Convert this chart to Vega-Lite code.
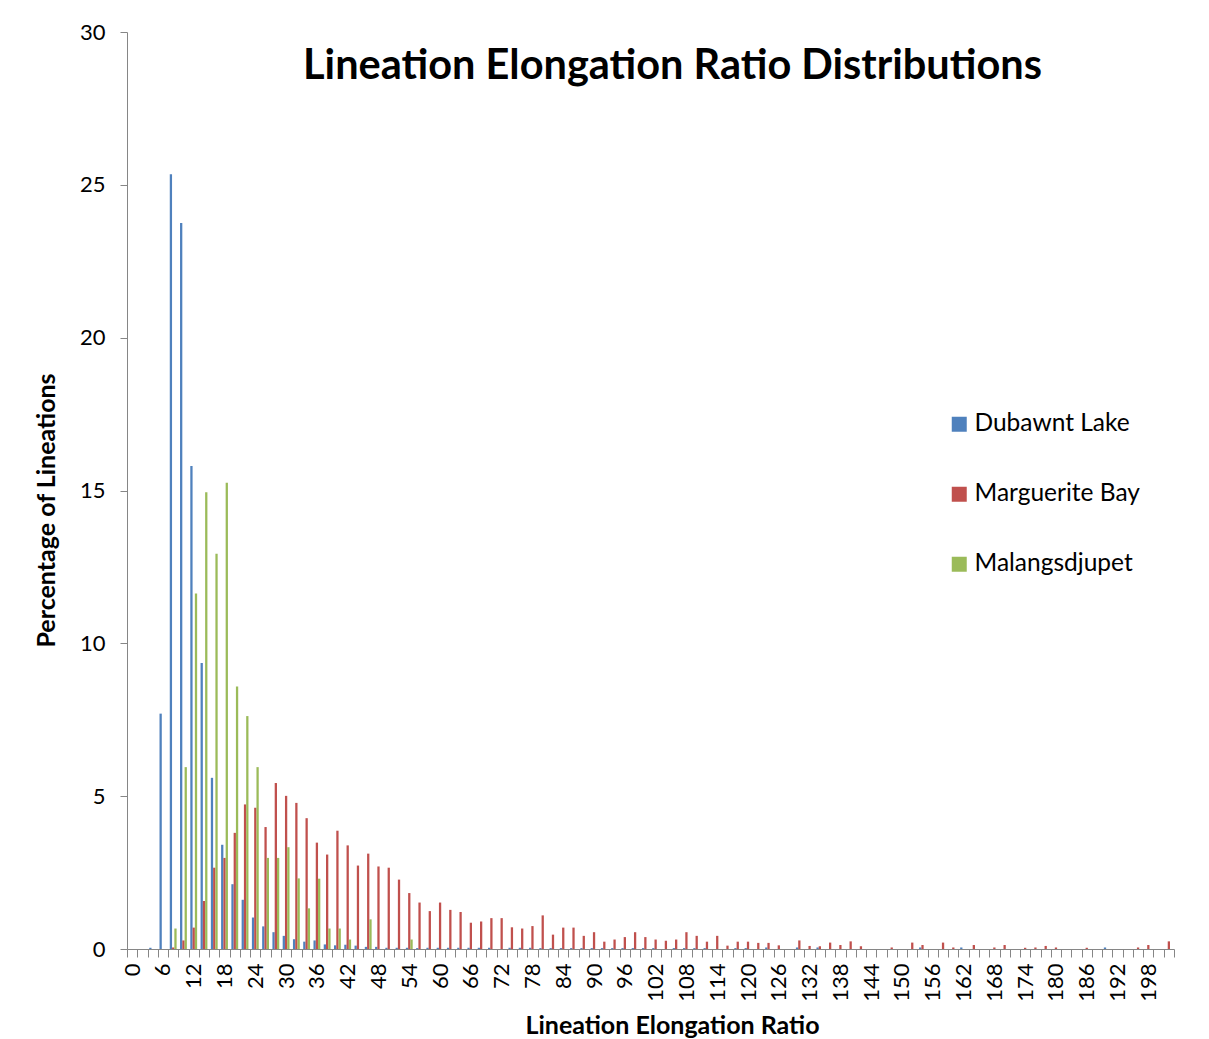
{
  "$schema": "https://vega.github.io/schema/vega-lite/v6.json",
  "width": 1047,
  "height": 917,
  "autosize": {"type": "none"},
  "padding": {"left": 127, "top": 32, "right": 35, "bottom": 90},
  "background": "white",
  "config": {"view": {"stroke": null}, "font": "Lato"},
  "data": {"values": [
    {"ratio": 4, "site": "Dubawnt Lake", "pct": 0.04},
    {"ratio": 6, "site": "Dubawnt Lake", "pct": 7.7},
    {"ratio": 8, "site": "Dubawnt Lake", "pct": 25.35},
    {"ratio": 10, "site": "Dubawnt Lake", "pct": 23.75},
    {"ratio": 12, "site": "Dubawnt Lake", "pct": 15.8},
    {"ratio": 14, "site": "Dubawnt Lake", "pct": 9.36},
    {"ratio": 16, "site": "Dubawnt Lake", "pct": 5.6},
    {"ratio": 18, "site": "Dubawnt Lake", "pct": 3.41},
    {"ratio": 20, "site": "Dubawnt Lake", "pct": 2.12},
    {"ratio": 22, "site": "Dubawnt Lake", "pct": 1.61},
    {"ratio": 24, "site": "Dubawnt Lake", "pct": 1.03},
    {"ratio": 26, "site": "Dubawnt Lake", "pct": 0.74},
    {"ratio": 28, "site": "Dubawnt Lake", "pct": 0.55},
    {"ratio": 30, "site": "Dubawnt Lake", "pct": 0.43},
    {"ratio": 32, "site": "Dubawnt Lake", "pct": 0.32},
    {"ratio": 34, "site": "Dubawnt Lake", "pct": 0.24},
    {"ratio": 36, "site": "Dubawnt Lake", "pct": 0.28},
    {"ratio": 38, "site": "Dubawnt Lake", "pct": 0.15},
    {"ratio": 40, "site": "Dubawnt Lake", "pct": 0.12},
    {"ratio": 42, "site": "Dubawnt Lake", "pct": 0.14},
    {"ratio": 44, "site": "Dubawnt Lake", "pct": 0.11},
    {"ratio": 46, "site": "Dubawnt Lake", "pct": 0.07},
    {"ratio": 48, "site": "Dubawnt Lake", "pct": 0.07},
    {"ratio": 50, "site": "Dubawnt Lake", "pct": 0.04},
    {"ratio": 52, "site": "Dubawnt Lake", "pct": 0.04},
    {"ratio": 54, "site": "Dubawnt Lake", "pct": 0.04},
    {"ratio": 56, "site": "Dubawnt Lake", "pct": 0.03},
    {"ratio": 58, "site": "Dubawnt Lake", "pct": 0.04},
    {"ratio": 60, "site": "Dubawnt Lake", "pct": 0.04},
    {"ratio": 62, "site": "Dubawnt Lake", "pct": 0.04},
    {"ratio": 64, "site": "Dubawnt Lake", "pct": 0.04},
    {"ratio": 66, "site": "Dubawnt Lake", "pct": 0.04},
    {"ratio": 68, "site": "Dubawnt Lake", "pct": 0.04},
    {"ratio": 70, "site": "Dubawnt Lake", "pct": 0.04},
    {"ratio": 74, "site": "Dubawnt Lake", "pct": 0.04},
    {"ratio": 76, "site": "Dubawnt Lake", "pct": 0.04},
    {"ratio": 78, "site": "Dubawnt Lake", "pct": 0.04},
    {"ratio": 80, "site": "Dubawnt Lake", "pct": 0.03},
    {"ratio": 82, "site": "Dubawnt Lake", "pct": 0.03},
    {"ratio": 84, "site": "Dubawnt Lake", "pct": 0.03},
    {"ratio": 86, "site": "Dubawnt Lake", "pct": 0.03},
    {"ratio": 88, "site": "Dubawnt Lake", "pct": 0.03},
    {"ratio": 90, "site": "Dubawnt Lake", "pct": 0.03},
    {"ratio": 92, "site": "Dubawnt Lake", "pct": 0.03},
    {"ratio": 94, "site": "Dubawnt Lake", "pct": 0.03},
    {"ratio": 96, "site": "Dubawnt Lake", "pct": 0.03},
    {"ratio": 98, "site": "Dubawnt Lake", "pct": 0.03},
    {"ratio": 100, "site": "Dubawnt Lake", "pct": 0.03},
    {"ratio": 102, "site": "Dubawnt Lake", "pct": 0.03},
    {"ratio": 106, "site": "Dubawnt Lake", "pct": 0.03},
    {"ratio": 108, "site": "Dubawnt Lake", "pct": 0.03},
    {"ratio": 110, "site": "Dubawnt Lake", "pct": 0.03},
    {"ratio": 112, "site": "Dubawnt Lake", "pct": 0.03},
    {"ratio": 118, "site": "Dubawnt Lake", "pct": 0.03},
    {"ratio": 120, "site": "Dubawnt Lake", "pct": 0.03},
    {"ratio": 124, "site": "Dubawnt Lake", "pct": 0.05},
    {"ratio": 130, "site": "Dubawnt Lake", "pct": 0.05},
    {"ratio": 134, "site": "Dubawnt Lake", "pct": 0.05},
    {"ratio": 154, "site": "Dubawnt Lake", "pct": 0.05},
    {"ratio": 162, "site": "Dubawnt Lake", "pct": 0.05},
    {"ratio": 190, "site": "Dubawnt Lake", "pct": 0.05},
    {"ratio": 8, "site": "Marguerite Bay", "pct": 0.05},
    {"ratio": 10, "site": "Marguerite Bay", "pct": 0.28},
    {"ratio": 12, "site": "Marguerite Bay", "pct": 0.7},
    {"ratio": 14, "site": "Marguerite Bay", "pct": 1.57},
    {"ratio": 16, "site": "Marguerite Bay", "pct": 2.66},
    {"ratio": 18, "site": "Marguerite Bay", "pct": 2.98},
    {"ratio": 20, "site": "Marguerite Bay", "pct": 3.8},
    {"ratio": 22, "site": "Marguerite Bay", "pct": 4.73},
    {"ratio": 24, "site": "Marguerite Bay", "pct": 4.62},
    {"ratio": 26, "site": "Marguerite Bay", "pct": 3.99},
    {"ratio": 28, "site": "Marguerite Bay", "pct": 5.43},
    {"ratio": 30, "site": "Marguerite Bay", "pct": 5.01},
    {"ratio": 32, "site": "Marguerite Bay", "pct": 4.78},
    {"ratio": 34, "site": "Marguerite Bay", "pct": 4.28},
    {"ratio": 36, "site": "Marguerite Bay", "pct": 3.48},
    {"ratio": 38, "site": "Marguerite Bay", "pct": 3.09},
    {"ratio": 40, "site": "Marguerite Bay", "pct": 3.87},
    {"ratio": 42, "site": "Marguerite Bay", "pct": 3.39},
    {"ratio": 44, "site": "Marguerite Bay", "pct": 2.73},
    {"ratio": 46, "site": "Marguerite Bay", "pct": 3.12},
    {"ratio": 48, "site": "Marguerite Bay", "pct": 2.7},
    {"ratio": 50, "site": "Marguerite Bay", "pct": 2.66},
    {"ratio": 52, "site": "Marguerite Bay", "pct": 2.27},
    {"ratio": 54, "site": "Marguerite Bay", "pct": 1.83},
    {"ratio": 56, "site": "Marguerite Bay", "pct": 1.52},
    {"ratio": 58, "site": "Marguerite Bay", "pct": 1.24},
    {"ratio": 60, "site": "Marguerite Bay", "pct": 1.52},
    {"ratio": 62, "site": "Marguerite Bay", "pct": 1.28},
    {"ratio": 64, "site": "Marguerite Bay", "pct": 1.21},
    {"ratio": 66, "site": "Marguerite Bay", "pct": 0.86},
    {"ratio": 68, "site": "Marguerite Bay", "pct": 0.9},
    {"ratio": 70, "site": "Marguerite Bay", "pct": 1.01},
    {"ratio": 72, "site": "Marguerite Bay", "pct": 1.01},
    {"ratio": 74, "site": "Marguerite Bay", "pct": 0.71},
    {"ratio": 76, "site": "Marguerite Bay", "pct": 0.67},
    {"ratio": 78, "site": "Marguerite Bay", "pct": 0.75},
    {"ratio": 80, "site": "Marguerite Bay", "pct": 1.1},
    {"ratio": 82, "site": "Marguerite Bay", "pct": 0.47},
    {"ratio": 84, "site": "Marguerite Bay", "pct": 0.7},
    {"ratio": 86, "site": "Marguerite Bay", "pct": 0.7},
    {"ratio": 88, "site": "Marguerite Bay", "pct": 0.43},
    {"ratio": 90, "site": "Marguerite Bay", "pct": 0.55},
    {"ratio": 92, "site": "Marguerite Bay", "pct": 0.24},
    {"ratio": 94, "site": "Marguerite Bay", "pct": 0.31},
    {"ratio": 96, "site": "Marguerite Bay", "pct": 0.39},
    {"ratio": 98, "site": "Marguerite Bay", "pct": 0.55},
    {"ratio": 100, "site": "Marguerite Bay", "pct": 0.39},
    {"ratio": 102, "site": "Marguerite Bay", "pct": 0.31},
    {"ratio": 104, "site": "Marguerite Bay", "pct": 0.27},
    {"ratio": 106, "site": "Marguerite Bay", "pct": 0.31},
    {"ratio": 108, "site": "Marguerite Bay", "pct": 0.55},
    {"ratio": 110, "site": "Marguerite Bay", "pct": 0.43},
    {"ratio": 112, "site": "Marguerite Bay", "pct": 0.24},
    {"ratio": 114, "site": "Marguerite Bay", "pct": 0.43},
    {"ratio": 116, "site": "Marguerite Bay", "pct": 0.11},
    {"ratio": 118, "site": "Marguerite Bay", "pct": 0.24},
    {"ratio": 120, "site": "Marguerite Bay", "pct": 0.24},
    {"ratio": 122, "site": "Marguerite Bay", "pct": 0.2},
    {"ratio": 124, "site": "Marguerite Bay", "pct": 0.2},
    {"ratio": 126, "site": "Marguerite Bay", "pct": 0.12},
    {"ratio": 130, "site": "Marguerite Bay", "pct": 0.28},
    {"ratio": 132, "site": "Marguerite Bay", "pct": 0.1},
    {"ratio": 134, "site": "Marguerite Bay", "pct": 0.09},
    {"ratio": 136, "site": "Marguerite Bay", "pct": 0.21},
    {"ratio": 138, "site": "Marguerite Bay", "pct": 0.13},
    {"ratio": 140, "site": "Marguerite Bay", "pct": 0.25},
    {"ratio": 142, "site": "Marguerite Bay", "pct": 0.09},
    {"ratio": 148, "site": "Marguerite Bay", "pct": 0.05},
    {"ratio": 152, "site": "Marguerite Bay", "pct": 0.21},
    {"ratio": 154, "site": "Marguerite Bay", "pct": 0.13},
    {"ratio": 158, "site": "Marguerite Bay", "pct": 0.21},
    {"ratio": 160, "site": "Marguerite Bay", "pct": 0.05},
    {"ratio": 164, "site": "Marguerite Bay", "pct": 0.13},
    {"ratio": 168, "site": "Marguerite Bay", "pct": 0.05},
    {"ratio": 170, "site": "Marguerite Bay", "pct": 0.13},
    {"ratio": 174, "site": "Marguerite Bay", "pct": 0.04},
    {"ratio": 176, "site": "Marguerite Bay", "pct": 0.05},
    {"ratio": 178, "site": "Marguerite Bay", "pct": 0.1},
    {"ratio": 180, "site": "Marguerite Bay", "pct": 0.05},
    {"ratio": 186, "site": "Marguerite Bay", "pct": 0.04},
    {"ratio": 196, "site": "Marguerite Bay", "pct": 0.05},
    {"ratio": 198, "site": "Marguerite Bay", "pct": 0.13},
    {"ratio": 202, "site": "Marguerite Bay", "pct": 0.25},
    {"ratio": 8, "site": "Malangsdjupet", "pct": 0.67},
    {"ratio": 10, "site": "Malangsdjupet", "pct": 5.95},
    {"ratio": 12, "site": "Malangsdjupet", "pct": 11.63},
    {"ratio": 14, "site": "Malangsdjupet", "pct": 14.94},
    {"ratio": 16, "site": "Malangsdjupet", "pct": 12.93},
    {"ratio": 18, "site": "Malangsdjupet", "pct": 15.25},
    {"ratio": 20, "site": "Malangsdjupet", "pct": 8.59},
    {"ratio": 22, "site": "Malangsdjupet", "pct": 7.62},
    {"ratio": 24, "site": "Malangsdjupet", "pct": 5.95},
    {"ratio": 26, "site": "Malangsdjupet", "pct": 2.98},
    {"ratio": 28, "site": "Malangsdjupet", "pct": 2.98},
    {"ratio": 30, "site": "Malangsdjupet", "pct": 3.33},
    {"ratio": 32, "site": "Malangsdjupet", "pct": 2.31},
    {"ratio": 34, "site": "Malangsdjupet", "pct": 1.33},
    {"ratio": 36, "site": "Malangsdjupet", "pct": 2.3},
    {"ratio": 38, "site": "Malangsdjupet", "pct": 0.67},
    {"ratio": 40, "site": "Malangsdjupet", "pct": 0.67},
    {"ratio": 42, "site": "Malangsdjupet", "pct": 0.31},
    {"ratio": 46, "site": "Malangsdjupet", "pct": 0.97},
    {"ratio": 54, "site": "Malangsdjupet", "pct": 0.31}
  ]},
  "layer": [
    {
      "mark": {"type": "bar"},
      "encoding": {
        "x": {
          "field": "ratio",
          "type": "ordinal",
          "scale": {
            "domain": [0,2,4,6,8,10,12,14,16,18,20,22,24,26,28,30,32,34,36,38,40,42,44,46,48,50,52,54,56,58,60,62,64,66,68,70,72,74,76,78,80,82,84,86,88,90,92,94,96,98,100,102,104,106,108,110,112,114,116,118,120,122,124,126,128,130,132,134,136,138,140,142,144,146,148,150,152,154,156,158,160,162,164,166,168,170,172,174,176,178,180,182,184,186,188,190,192,194,196,198,200,202],
            "paddingInner": 0,
            "paddingOuter": 0
          },
          "axis": {
            "orient": "bottom",
            "title": "Lineation Elongation Ratio",
            "titleFont": "Lato",
            "titleFontSize": 25,
            "titleFontWeight": "bold",
            "titleColor": "black",
            "titleX": 545,
            "titleY": 76,
            "titleAlign": "center",
            "titleBaseline": "middle",
            "labelAngle": -90,
            "labelFontSize": 22,
            "labelColor": "black",
            "labelPadding": 6,
            "labelOverlap": false,
            "labelExpr": "datum.value % 6 === 0 ? datum.label : ''",
            "tickBand": "extent",
            "tickSize": 8,
            "tickColor": "#868686",
            "domainColor": "#868686",
            "grid": false
          }
        },
        "xOffset": {
          "field": "site",
          "scale": {"domain": ["Dubawnt Lake", "Marguerite Bay", "Malangsdjupet"], "paddingInner": 0, "paddingOuter": 0.75}
        },
        "y": {
          "field": "pct",
          "type": "quantitative",
          "scale": {"domain": [0, 30], "nice": false},
          "axis": {
            "title": "Percentage of Lineations",
            "titleFont": "Lato",
            "titleFontSize": 25,
            "titleFontWeight": "bold",
            "titleColor": "black",
            "titleX": -81,
            "titleY": 478,
            "titleAlign": "center",
            "titleBaseline": "middle",
            "values": [0, 5, 10, 15, 20, 25, 30],
            "labelFontSize": 22,
            "labelColor": "black",
            "labelPadding": 15,
            "tickSize": 7,
            "tickColor": "#868686",
            "domainColor": "#868686",
            "grid": false
          }
        },
        "color": {
          "field": "site",
          "type": "nominal",
          "scale": {"domain": ["Dubawnt Lake", "Marguerite Bay", "Malangsdjupet"], "range": ["#4F81BD", "#C0504D", "#9BBB59"]},
          "legend": {
            "orient": "none",
            "legendX": 820,
            "legendY": 380,
            "title": null,
            "symbolType": "square",
            "symbolSize": 225,
            "symbolStrokeWidth": 0,
            "labelFontSize": 24.5,
            "labelLimit": 400,
            "labelColor": "black",
            "labelOffset": 3,
            "rowPadding": 45,
            "padding": 0
          }
        }
      }
    },
    {
      "data": {"values": []},
      "mark": {"type": "bar"},
      "encoding": {
        "x": {
          "field": "ratio",
          "type": "ordinal",
          "axis": {
            "orient": "top",
            "title": "Lineation Elongation Ratio Distributions",
            "titleFont": "Lato",
            "titleFontSize": 41.5,
            "titleFontWeight": "bold",
            "titleColor": "black",
            "titleX": 545,
            "titleY": 46,
            "titleAlign": "center",
            "titleBaseline": "alphabetic",
            "labels": false,
            "ticks": false,
            "domain": false,
            "grid": false
          }
        }
      }
    }
  ],
  "resolve": {"axis": {"x": "independent"}}
}
